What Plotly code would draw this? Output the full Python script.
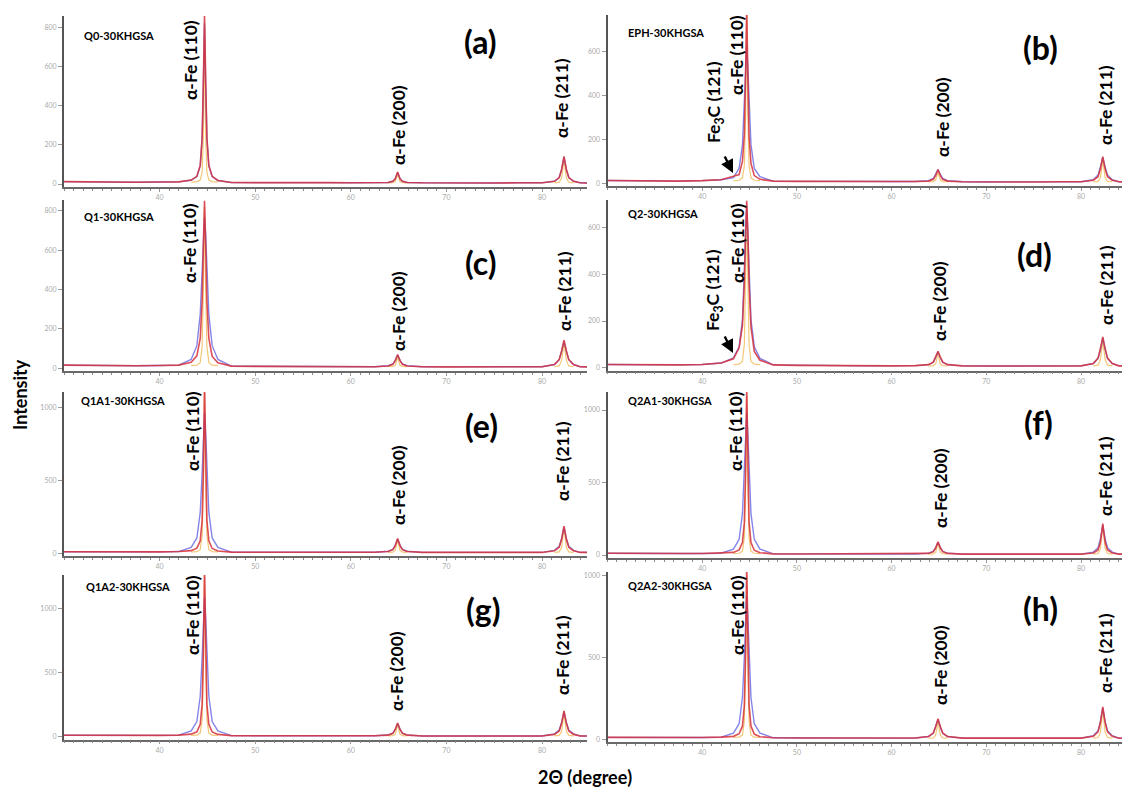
import plotly.graph_objects as go

W, H = 1122, 787

# ---------------- data ----------------
X_GRID = [30, 32.5, 35, 37.5, 40, 42,
          43.3, 43.9, 44.25, 44.45, 44.58, 44.7, 44.82, 44.95, 45.15, 45.5, 46.1,
          47.5, 50, 52.5, 55, 57.5, 60, 62.5,
          63.9, 64.4, 64.65, 64.9, 65.15, 65.4, 65.9,
          67.5, 70, 72.5, 75, 77.5, 80,
          81.3, 81.8, 82.05, 82.3, 82.55, 82.8, 83.3,
          84, 85]
PEAK_IDX = list(range(6, 17)) + list(range(24, 31)) + list(range(37, 44))

SAMPLES = ["Q0-30KHGSA", "EPH-30KHGSA", "Q1-30KHGSA", "Q2-30KHGSA",
           "Q1A1-30KHGSA", "Q2A1-30KHGSA", "Q1A2-30KHGSA", "Q2A2-30KHGSA"]
PANEL_TAGS = ["(a)", "(b)", "(c)", "(d)", "(e)", "(f)", "(g)", "(h)"]

# observed intensity (red)
RED_A = [12,10,11,9,10,11, 20,39,95,235,529,860,529,235,95,39,18, 8,7,8,6,7,6,7, 8,14,27,61,27,14,8, 6,5,6,5,6,6, 14,33,74,141,74,33,14, 6,5]
RED_B = [13,11,12,10,12,16, 32,40,100,225,500,800,490,215,90,35,18, 10,9,8,9,7,8,8, 10,18,35,63,35,18,10, 7,6,7,6,7,7, 14,30,65,122,65,30,14, 7,6]
RED_C = [16,14,15,13,14,16, 31,63,152,340,630,850,630,340,152,60,28, 11,10,9,9,8,8,8, 12,20,39,70,39,20,12, 8,7,8,7,8,8, 19,44,88,143,88,44,19, 8,7]
RED_D = [14,13,14,12,14,20, 38,85,180,365,585,715,580,360,175,70,32, 12,10,9,9,8,8,9, 13,24,45,70,45,24,13, 8,7,8,7,8,8, 18,41,81,132,81,41,18, 8,7]
RED_E = [11,10,11,9,10,12, 18,35,86,225,585,1160,585,225,86,33,16, 8,7,7,6,7,6,7, 12,25,53,101,53,25,12, 6,6,6,5,6,6, 17,42,96,186,96,42,17, 6,6]
RED_F = [12,10,11,10,10,12, 18,35,86,225,585,1160,585,225,86,33,16, 8,7,7,7,6,7,7, 11,23,48,91,48,23,11, 6,6,6,6,5,6, 14,35,88,216,88,35,14, 6,6]
RED_G = [11,10,10,9,10,12, 20,38,96,253,660,1310,660,253,96,37,18, 8,7,7,6,6,6,7, 12,26,56,106,56,26,12, 6,6,5,6,6,6, 18,45,104,201,104,45,18, 6,6]
RED_H = [12,11,11,10,11,13, 18,34,80,207,537,1062,537,207,80,32,16, 9,8,8,7,7,7,8, 17,38,77,125,77,38,17, 7,7,6,7,6,7, 18,45,102,197,102,45,18, 7,6]

# fitted profile (blue), values at the peak points
BLUE_A = [19,38,93,232,515,820,515,232,93,38,18, 8,14,27,59,27,14,8, 14,33,73,137,73,33,14]
BLUE_B = [26,68,175,350,530,625,530,350,175,68,30, 12,22,40,62,40,22,12, 16,38,75,118,75,38,16]
BLUE_C = [45,115,275,495,680,765,680,495,275,115,45, 13,22,40,66,40,22,13, 19,44,86,138,86,44,19]
BLUE_D = [42,90,205,395,580,685,580,395,205,90,40, 13,23,43,67,43,23,13, 18,40,78,128,78,40,18]
BLUE_E = [40,105,280,550,820,960,820,550,280,105,40, 14,27,55,98,55,27,14, 20,48,100,180,100,48,20]
BLUE_F = [41,108,285,560,835,980,835,560,285,108,41, 13,25,50,88,50,25,13, 20,50,110,205,110,50,20]
BLUE_G = [45,118,315,620,920,1080,920,620,315,118,45, 14,28,58,103,58,28,14, 22,52,110,195,110,52,22]
BLUE_H = [38,95,255,500,745,870,745,500,255,95,38, 17,37,75,120,75,37,17, 22,52,108,192,108,52,22]

# component peaks (yellow), values at the peak points
YEL_A = [10,12,20,60,250,800,250,60,20,12,10, 6,7,12,50,12,7,6, 6,9,30,120,30,9,6]
YEL_B = [12,14,25,80,300,770,300,80,25,14,12, 7,8,15,50,15,8,7, 7,9,25,105,25,9,7]
YEL_C = [14,16,30,110,400,820,400,110,30,16,14, 8,9,15,55,15,9,8, 8,12,40,125,40,12,8]
YEL_D = [13,15,28,100,380,700,380,100,28,15,13, 8,9,16,58,16,9,8, 8,11,35,115,35,11,8]
YEL_E = [10,12,25,120,450,1100,450,120,25,12,10, 6,8,20,85,20,8,6, 6,10,40,170,40,10,6]
YEL_F = [10,12,25,120,450,1100,450,120,25,12,10, 6,8,18,78,18,8,6, 6,10,45,195,45,10,6]
YEL_G = [10,12,28,135,520,1250,520,135,28,12,10, 6,8,20,90,20,8,6, 6,10,42,180,42,10,6]
YEL_H = [11,13,26,110,420,1000,420,110,26,13,11, 7,9,25,105,25,9,7, 7,11,42,175,42,11,7]

Y_TICKS_A = [0, 200, 400, 600, 800]
Y_TICKS_B = [0, 200, 400, 600]
Y_TICKS_E = [0, 500, 1000]
X_TICKS = [40, 50, 60, 70, 80]

# ---------------- layout geometry (pixels) ----------------
# column: (left px, right px, px per degree)
COLS = [(64, 587, 9.56), (607.5, 1122, 9.47)]
# panel: (col, top px, zero px, px per count)
GEOM = [(0, 16, 184.0, 0.196), (1, 15, 183.3, 0.2194),
        (0, 200, 368.3, 0.197), (1, 200, 367.7, 0.2333),
        (0, 392, 553.3, 0.146), (1, 392, 555.0, 0.145),
        (0, 575, 736.7, 0.1284), (1, 572, 739.3, 0.164)]

REDS = [RED_A, RED_B, RED_C, RED_D, RED_E, RED_F, RED_G, RED_H]
BLUES = [BLUE_A, BLUE_B, BLUE_C, BLUE_D, BLUE_E, BLUE_F, BLUE_G, BLUE_H]
YELS = [YEL_A, YEL_B, YEL_C, YEL_D, YEL_E, YEL_F, YEL_G, YEL_H]
YTICKS = [Y_TICKS_A, Y_TICKS_B, Y_TICKS_A, Y_TICKS_B, Y_TICKS_E, Y_TICKS_E, Y_TICKS_E, Y_TICKS_E]

FONT = "Lato"
RED = "rgba(214,48,58,0.85)"
BLUE = "rgba(85,85,225,0.72)"
YELLOW = "rgba(240,190,95,0.85)"


def px(x):
    return x / W


def py(y):
    return 1 - y / H


fig = go.Figure()
layout = {}

for i in range(8):
    col, top, zero, s = GEOM[i]
    lft, rgt, sx = COLS[col]
    n = i + 1
    xa = "x" if n == 1 else f"x{n}"
    ya = "y" if n == 1 else f"y{n}"

    red = REDS[i]
    blue = list(red)
    for k, idx in enumerate(PEAK_IDX):
        blue[idx] = BLUES[i][k]
    yx, yy = [], []
    for k, idx in enumerate(PEAK_IDX):
        if k in (11, 18):
            yx.append(None)
            yy.append(None)
        yx.append(X_GRID[idx])
        yy.append(YELS[i][k])

    fig.add_trace(go.Scatter(x=yx, y=yy, mode="lines", xaxis=xa, yaxis=ya,
                             line=dict(color=YELLOW, width=1.2), showlegend=False,
                             connectgaps=False))
    fig.add_trace(go.Scatter(x=X_GRID, y=blue, mode="lines", xaxis=xa, yaxis=ya,
                             line=dict(color=BLUE, width=1.4), showlegend=False))
    fig.add_trace(go.Scatter(x=X_GRID, y=red, mode="lines", xaxis=xa, yaxis=ya,
                             line=dict(color=RED, width=1.6), showlegend=False))

    xr_max = 30 + (rgt - lft) / sx
    y_max = (zero - top) / s
    y_min = -(3.0) / s
    bottom = zero + 3.0

    layout["xaxis" if n == 1 else f"xaxis{n}"] = dict(
        domain=[px(lft), px(rgt)], range=[30, xr_max], anchor=ya,
        showline=True, linecolor="#6a6a6a", linewidth=1.5,
        ticks="outside", ticklen=3, tickcolor="#999", tickvals=X_TICKS,
        tickfont=dict(size=7, color="#aaa", family=FONT),
        minor=dict(ticks="outside", ticklen=2, dtick=1, tickcolor="#888"),
        showgrid=False, zeroline=False, fixedrange=True)
    layout["yaxis" if n == 1 else f"yaxis{n}"] = dict(
        domain=[py(bottom), py(top)], range=[y_min, y_max], anchor=xa,
        showline=True, linecolor="#555", linewidth=2,
        ticks="outside", ticklen=4, tickcolor="#999", tickvals=YTICKS[i],
        tickfont=dict(size=7, color="#aaa", family=FONT),
        showgrid=False, zeroline=False, fixedrange=True)

annotations = []


def txt(text, x, y, size, xanchor="center", yanchor="middle", angle=0):
    annotations.append(dict(text=text, x=px(x), y=py(y), xref="paper", yref="paper",
                            showarrow=False, xanchor=xanchor, yanchor=yanchor,
                            textangle=angle, font=dict(family=FONT, size=size, color="#000")))


# sample names
NAME_POS = [(82, 35), (626, 33), (82, 217), (626, 213), (79, 401), (626, 400), (84, 586), (626, 585)]
for name, (x, y) in zip(SAMPLES, NAME_POS):
    txt(f"<b>{name}</b>", x, y, 11, xanchor="left")

# panel letters
TAG_POS = [(480, 42), (1040, 47), (481, 262), (1034, 254), (481, 425), (1038, 422), (483, 609), (1040, 608)]
for tag, (x, y) in zip(PANEL_TAGS, TAG_POS):
    txt(f"<b>{tag}</b>", x, y, 32)

# peak labels: (text, centre x px, bottom y px)
FE110 = "<b>α-Fe (110)</b>"
FE200 = "<b>α-Fe (200)</b>"
FE211 = "<b>α-Fe (211)</b>"
FE3C = "<b>Fe<sub>3</sub>C (121)</b>"
PEAK_LABELS = [
    (FE110, 191, 102), (FE200, 398, 167), (FE211, 562, 140),
    (FE3C, 715, 145), (FE110, 737, 97), (FE200, 942, 159), (FE211, 1105, 147),
    (FE110, 189, 285), (FE200, 398, 353), (FE211, 564, 333),
    (FE3C, 714, 333), (FE110, 737, 285), (FE200, 940, 343), (FE211, 1106, 327),
    (FE110, 192, 473), (FE200, 398, 527), (FE211, 562, 503),
    (FE110, 735, 473), (FE200, 940, 530), (FE211, 1105, 518),
    (FE110, 192, 657), (FE200, 396, 713), (FE211, 562, 697),
    (FE110, 737, 657), (FE200, 940, 707), (FE211, 1105, 695),
]
for t, x, y in PEAK_LABELS:
    txt(t, x, y, 17.5, yanchor="bottom", angle=-90)

# arrows for Fe3C
for hx, hy in [(733, 173), (733, 353)]:
    annotations.append(dict(text="", x=px(hx), y=py(hy), xref="paper", yref="paper",
                            showarrow=True, arrowhead=2, arrowsize=1.1, arrowwidth=2.4,
                            arrowcolor="#000", ax=-9, ay=-18))

# axis titles
txt("<b>Intensity</b>", 20, 395, 18, angle=-90)
txt("<b>2Θ (degree)</b>", 585, 777, 18)

fig.update_layout(**layout)
fig.update_layout(width=W, height=H, margin=dict(l=0, r=0, t=0, b=0),
                  paper_bgcolor="white", plot_bgcolor="rgba(0,0,0,0)",
                  annotations=annotations, showlegend=False,
                  font=dict(family=FONT))

fig.write_html("out.html", config={"displayModeBar": False})
